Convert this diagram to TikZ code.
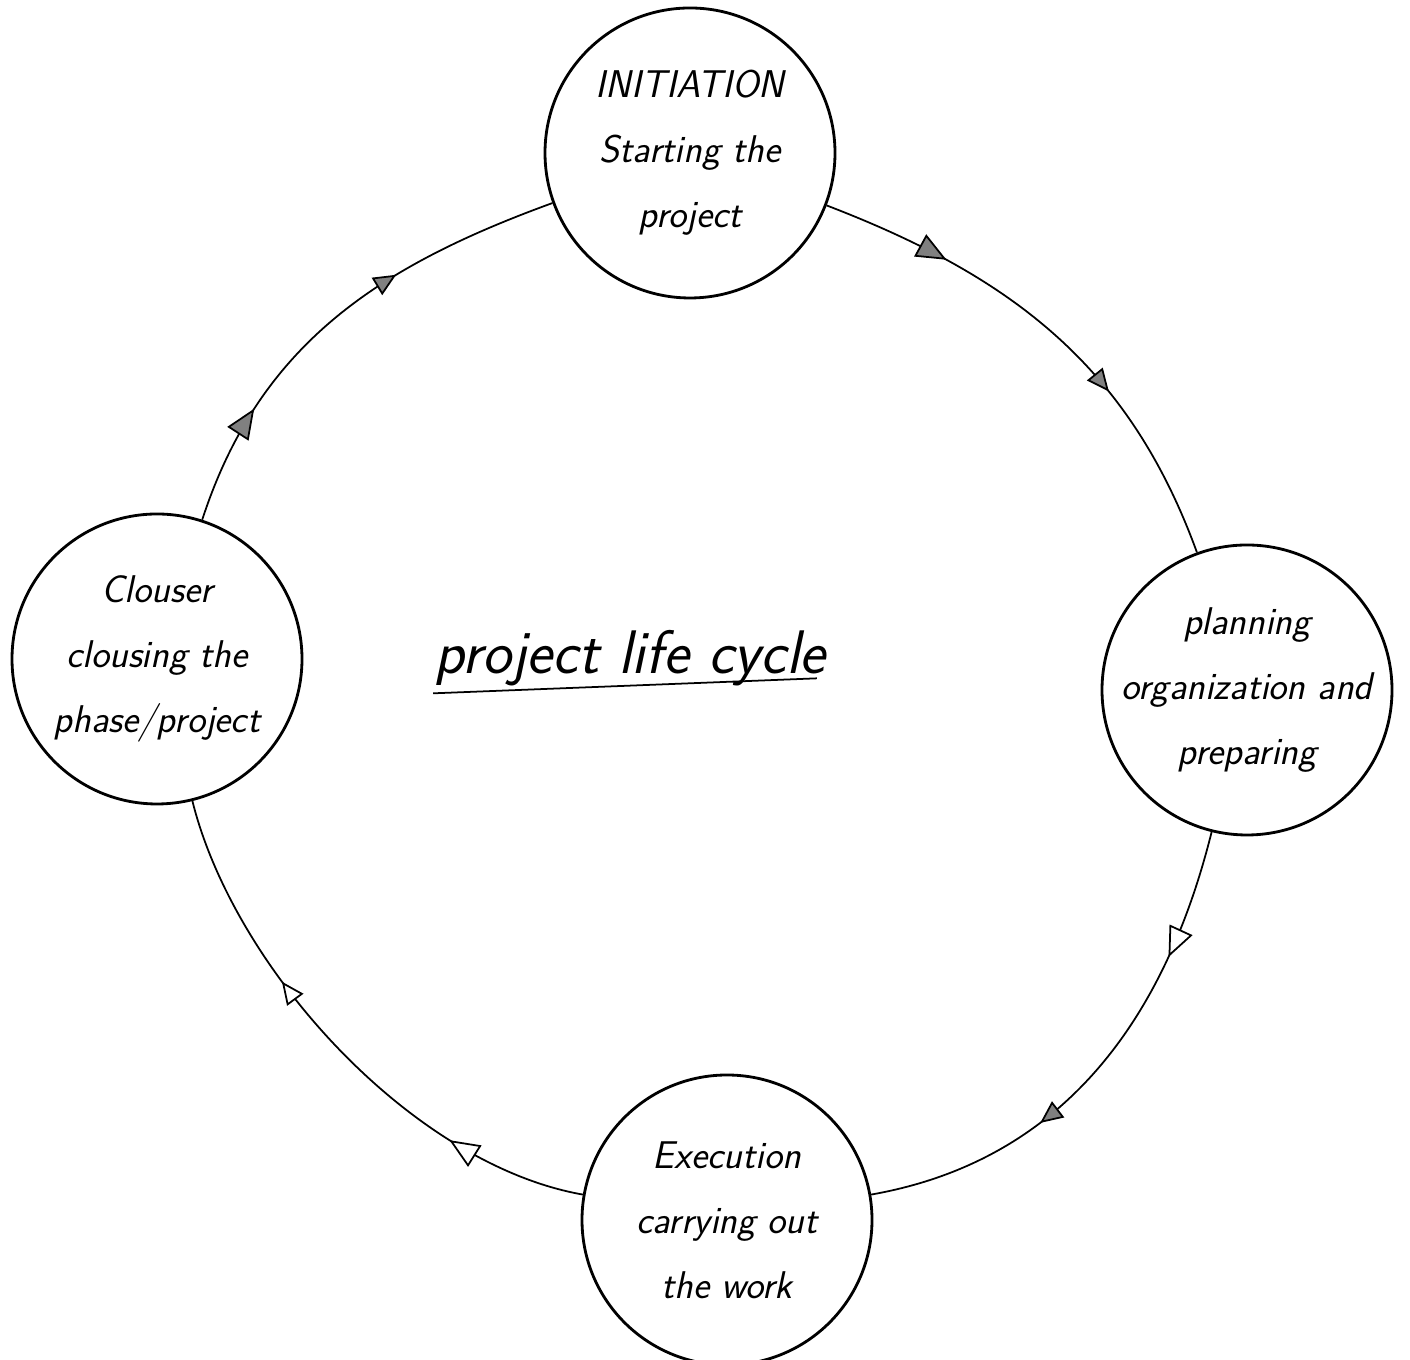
\documentclass[tikz,border=0pt]{standalone}
\usepackage{fontspec}
\usepackage{tikz}
\usetikzlibrary{positioning,arrows.meta,decorations.markings}

\begin{document}
\begin{tikzpicture}[auto,semithick,on grid,
    flow/.style 2 args={line width=1pt,postaction={decorate},decoration={markings,
        mark=at position 0.25 with {\arrow{Triangle[length=6mm,width=5mm,fill=#1]}},
        mark=at position 0.65 with {\arrow{Triangle[length=4.5mm,width=4mm,fill=#2]}}}}]
    \tikzstyle{phase}=[circle,draw=black,line width=1.6pt,minimum size=5.8cm,inner sep=-0.4cm,align=center,
        font=\fontsize{22}{37}\selectfont\sffamily\itshape,text=black]
    \useasboundingbox (0,0) rectangle (28.2,27.2);
    \node[phase]    (init)    at (13.8,24.14)                         {INITIATION\\Starting the\\project};
    \node[phase]    (plan)    [below right=10.74cm and 11.14cm of init] {planning\\organization and\\preparing};
    \node[phase]    (exec)    [below left=10.6cm and 10.4cm of plan]   {Execution\\carrying out\\the work};
    \node[phase]    (closer)  [below left=10.12cm and 10.66cm of init] {Clouser\\clousing the\\phase/project};
    \node[font=\fontsize{35}{40}\selectfont\sffamily\itshape]
                    (title)   [below left=10.1cm and 1.2cm of init]    {project life cycle};
    \draw[line width=1pt] ([shift={(0.1cm,-0.4cm)}]title.base west) -- ([shift={(-0.3cm,-0.1cm)}]title.base east);
    \path
        (init)      edge[flow={gray}{gray},   out=-21,  in=110]                  (plan)
        (plan)      edge[flow={white}{gray},  out=-104, in=10]                   (exec)
        (exec)      edge[flow={white}{white}, out=170,  in=-76, looseness=0.8]   (closer)
        (closer)    edge[flow={gray}{gray},   out=72,   in=200]                  (init);
\end{tikzpicture}
\end{document}
